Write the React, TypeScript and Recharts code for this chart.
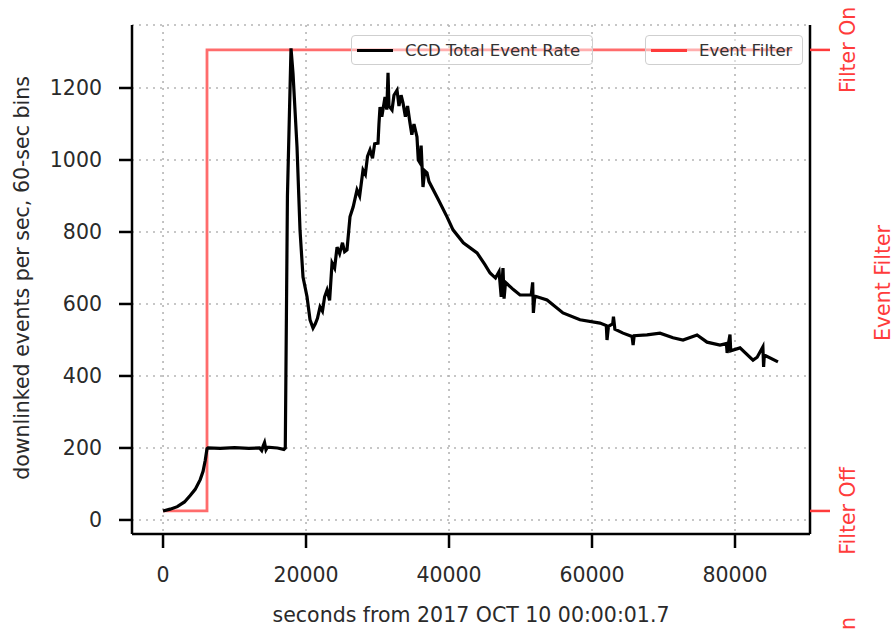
import { LineChart, Line, XAxis, YAxis, CartesianGrid, Label } from 'recharts';

// CCD total event rate, 60-sec bins (seconds from start, events/sec)
const rateTime = [
  0, 1000, 2000, 3000, 3800, 4500, 5200, 5600, 5900, 6150, 6300, 8000, 10000, 12000, 13500, 13800,
  14000, 14200, 14400, 14600, 16000, 16900, 17100, 17400, 17900, 18180, 18740, 19160, 19580, 20140,
  20560, 20980, 21300, 21600, 21960, 22300, 22600, 22940, 23300, 23640, 24000, 24340, 24700, 25100,
  25400, 25730, 26150, 26600, 27130, 27500, 27970, 28300, 28600, 28950, 29300, 29600, 30070, 30200,
  30350, 30600, 31050, 31300, 31470, 31600, 32030, 32300, 32730, 33000, 33300, 33570, 33900, 34200,
  34540, 34800, 35100, 35520, 35700, 35940, 36100, 36360, 36600, 36920, 37200, 38500, 39720, 40560,
  42000, 43920, 45000, 45740, 46500, 47000, 47300, 47550, 47700, 47900, 49000, 49930, 51500, 51700,
  51800, 52000, 53710, 55940, 58320, 61120, 62000, 62100, 62300, 62900, 63000, 63200, 64340, 65600,
  65750, 65900, 67690, 69510, 71330, 72730, 74690, 76090, 77900, 78800, 78900, 79100, 79300, 79400,
  80700, 82520, 83100, 83900, 84000, 84100, 86010,
];
const rateValue = [
  25, 30, 37, 50, 68, 85, 112, 135, 165, 198, 200, 199, 201, 199, 200, 193,
  205, 215, 195, 202, 200, 196, 200, 900, 1310, 1241, 1036, 805, 675, 620,
  556, 533, 545, 560, 592, 580, 620, 639, 610, 714, 700, 758, 740, 770,
  745, 750, 842, 870, 917, 900, 972, 960, 1010, 1028, 1005, 1045, 1047, 1100,
  1147, 1120, 1175, 1140, 1242, 1150, 1139, 1180, 1194, 1150, 1180, 1158, 1120, 1150,
  1103, 1070, 1100, 1064, 1000, 992, 1040, 925, 970, 964, 940, 890, 842, 806,
  770, 742, 710, 686, 672, 690, 620, 700, 615, 660, 640, 625, 625, 660,
  575, 622, 611, 575, 556, 547, 540, 500, 538, 545, 565, 530, 519, 510,
  486, 512, 514, 519, 506, 500, 514, 494, 486, 490, 464, 492, 515, 470,
  478, 444, 452, 481, 425, 458, 439,
];

// event filter state: 0 = off, 1 = on
const filterTime = [0, 6150, 6150, 88000];
const filterState = [0, 0, 1, 1];

const xTicks = [0, 20000, 40000, 60000, 80000];
const yTicks = [0, 200, 400, 600, 800, 1000, 1200];
const filterTicks = [0, 1];
const filterLabels = ['Filter Off', 'Filter On'];

const rateData = rateTime.map((t, i) => ({ t, rate: rateValue[i] }));
const filterData = filterTime.map((t, i) => ({ t, filter: filterState[i] }));

const FONT = '"DejaVu Sans", sans-serif';
const FS = 20.5;
const INK = '#2a2a2a';
const RED = '#ff3b3b';
const spine = { stroke: '#000', strokeWidth: 2.5 };

const FilterTick = ({ y, payload }: any) => (
  <text x={848} y={y} fill={RED} fontSize={FS} fontFamily={FONT} textAnchor="middle"
    dominantBaseline="central" transform={`rotate(-90 848 ${y})`}>
    {filterLabels[payload.index ?? filterTicks.indexOf(payload.value)]}
  </text>
);

const RightLabel = () => (
  <g>
    <text x={883} y={283} fill={RED} fontSize={FS} fontFamily={FONT} textAnchor="middle"
      dominantBaseline="central" transform="rotate(-90 883 283)">Event Filter</text>
    <text x={848} y={617} fill={RED} fontSize={FS} fontFamily={FONT} textAnchor="end"
      dominantBaseline="central" transform="rotate(-90 848 617)">Filter On</text>
  </g>
);

function LegendBox({ left, width, color, text }: any) {
  return (
    <div style={{
      position: 'absolute', left, top: 35, width, height: 30, boxSizing: 'border-box',
      border: '1.5px solid #cfcfcf', borderRadius: 4, background: 'rgba(255,255,255,0.45)',
      display: 'flex', alignItems: 'center', fontFamily: FONT, fontSize: 16.5, color: '#333',
    }}>
      <div style={{ width: 36, height: 3, background: color, marginLeft: 5, marginRight: 12 }} />
      <span>{text}</span>
    </div>
  );
}

export default function App() {
  return (
    <div style={{ position: 'absolute', left: 0, top: 0, width: 896, height: 630, background: '#fff' }}>
      <LineChart width={896} height={630} margin={{ top: 25, right: 0, bottom: 0, left: 0 }}>
        <CartesianGrid stroke="#b5b5b5" strokeWidth={1.6} strokeDasharray="2 5" yAxisId="left" />
        <XAxis dataKey="t" type="number" domain={[-4340, 90490]} ticks={xTicks} allowDataOverflow
          height={96} axisLine={spine} tickLine={spine} tickSize={14} tickMargin={19}
          tick={{ fill: INK, fontSize: FS, fontFamily: FONT }}>
          <Label value="seconds from 2017 OCT 10 00:00:01.7" position="insideBottom" offset={8}
            fill={INK} fontSize={FS} fontFamily={FONT} />
        </XAxis>
        <XAxis xAxisId="top" orientation="top" dataKey="t" type="number" domain={[-4340, 90490]}
          height={0} tick={false} tickLine={false} axisLine={spine} />
        <YAxis yAxisId="left" type="number" domain={[-39, 1375]} ticks={yTicks} allowDataOverflow
          width={132} axisLine={spine} tickLine={spine} tickSize={13} tickMargin={17}
          tick={{ fill: INK, fontSize: FS, fontFamily: FONT }}>
          <Label content={() => (
            <text x={22} y={278} fill={INK} fontSize={FS} fontFamily={FONT} textAnchor="middle"
              dominantBaseline="central" transform="rotate(-90 22 278)">
              downlinked events per sec, 60-sec bins
            </text>
          )} />
        </YAxis>
        <YAxis yAxisId="right" orientation="right" type="number" domain={[-0.05, 1.054]}
          ticks={filterTicks} allowDataOverflow width={86} axisLine={spine}
          tickLine={{ stroke: RED, strokeWidth: 2.5 }} tickSize={20} tick={<FilterTick />}>
          <Label content={() => <RightLabel />} />
        </YAxis>
        <Line data={filterData} yAxisId="right" dataKey="filter" type="linear" stroke={RED}
          strokeOpacity={0.75} strokeWidth={2.8} dot={false} isAnimationActive={false} />
        <Line data={rateData} yAxisId="left" dataKey="rate" type="linear" stroke="#000"
          strokeWidth={3.2} dot={false} isAnimationActive={false} />
      </LineChart>
      <LegendBox left={351} width={242} color="#000" text="CCD Total Event Rate" />
      <LegendBox left={645} width={158} color={RED} text="Event Filter" />
    </div>
  );
}
